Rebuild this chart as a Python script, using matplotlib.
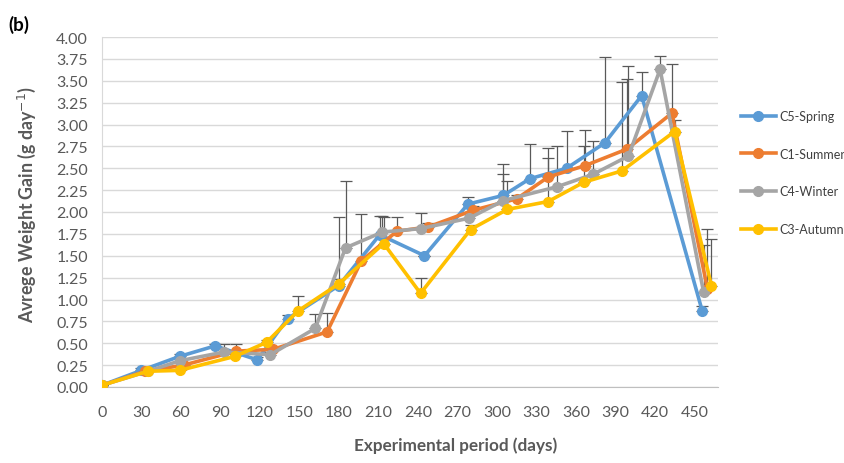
import matplotlib
matplotlib.use("Agg")
import matplotlib.pyplot as plt
import numpy as np

plt.rcParams['font.family'] = ['Lato', 'DejaVu Sans']

# ---- data ----
series_names = ["C5-Spring", "C1-Summer", "C4-Winter", "C3-Autumn"]

x_spring = [0, 30, 59, 86, 118, 141, 180, 211, 245, 278, 305, 325, 353, 382, 410, 456]
y_spring = [0.02, 0.19, 0.35, 0.47, 0.31, 0.78, 1.16, 1.74, 1.50, 2.09, 2.19, 2.38, 2.50, 2.79, 3.33, 0.87]
e_spring = [0, 0.03, 0.03, 0.02, 0.03, 0.04, 0.78, 0.21, 0, 0.08, 0.36, 0.40, 0.43, 0.98, 0.27, 0.06]

x_summer = [0, 33, 62, 102, 130, 171, 197, 224, 248, 282, 315, 339, 367, 399, 433, 460]
y_summer = [0.02, 0.18, 0.25, 0.41, 0.43, 0.63, 1.44, 1.78, 1.83, 2.02, 2.15, 2.40, 2.53, 2.72, 3.13, 1.12]
e_summer = [0, 0.03, 0.03, 0.08, 0.03, 0.22, 0.54, 0.16, 0.05, 0.05, 0.05, 0.33, 0.41, 0.80, 0.56, 0.69]

x_winter = [0, 35, 59, 93, 128, 162, 185, 213, 242, 279, 305, 346, 373, 400, 424, 457]
y_winter = [0.02, 0.18, 0.30, 0.40, 0.37, 0.67, 1.59, 1.77, 1.81, 1.93, 2.13, 2.29, 2.43, 2.64, 3.63, 1.09]
e_winter = [0, 0.03, 0.03, 0.09, 0.03, 0.17, 0.77, 0.18, 0.18, 0.05, 0.30, 0.47, 0.38, 1.03, 0.15, 0.53]

x_autumn = [0, 35, 59, 101, 125, 149, 180, 214, 242, 280, 308, 339, 366, 395, 435, 463]
y_autumn = [0.02, 0.18, 0.19, 0.35, 0.51, 0.87, 1.18, 1.64, 1.07, 1.80, 2.03, 2.12, 2.34, 2.47, 2.92, 1.16]
e_autumn = [0, 0.02, 0.02, 0.03, 0.03, 0.17, 0.05, 0.30, 0.18, 0.05, 0.32, 0.50, 0.41, 1.02, 0.13, 0.53]

x_ticks = list(range(0, 451, 30))
y_ticks = [i * 0.25 for i in range(17)]

colors = ["#5B9BD5", "#ED7D31", "#A5A5A5", "#FFC000"]

xs = [x_spring, x_summer, x_winter, x_autumn]
ys = [y_spring, y_summer, y_winter, y_autumn]
es = [e_spring, e_summer, e_winter, e_autumn]

# ---- figure ----
fig = plt.figure(figsize=(8.45, 4.64), dpi=100)
ax = fig.add_axes([102 / 845, 1 - 388 / 464, (718 - 102) / 845, (388 - 38) / 464])

handles = []
for x, y, e, c, name in zip(xs, ys, es, colors, series_names):
    ax.errorbar(x, y, yerr=[np.zeros(len(e)), e], fmt='none', ecolor='#595959',
                elinewidth=0.9, capsize=4, capthick=0.9, zorder=2)
    h, = ax.plot(x, y, color=c, lw=2.6, marker='o', markersize=7, label=name,
                 zorder=3, solid_joinstyle='round')
    handles.append(h)

ax.set_xlim(0, 468)
ax.set_ylim(0, 4.0)
ax.set_xticks(x_ticks)
ax.set_yticks(y_ticks)
ax.set_yticklabels([f"{v:.2f}" for v in y_ticks])
ax.tick_params(axis='both', length=0, labelsize=11.5, colors='#595959')
ax.tick_params(axis='x', pad=13)
ax.tick_params(axis='y', pad=10)
ax.yaxis.grid(True, color='#D9D9D9', lw=1)
ax.set_axisbelow(True)
for s in ['top', 'right']:
    ax.spines[s].set_visible(False)
ax.spines['left'].set_color('#D9D9D9')
ax.spines['bottom'].set_color('#BFBFBF')

ax.set_xlabel("Experimental period (days)", fontsize=12.3, fontweight='bold',
              color='#595959')
ax.xaxis.set_label_coords((456 - 102) / 616, (388 - 437) / 350)
ax.set_ylabel("Avrege Weight Gain (g day$^{-1}$)", fontsize=12.8, fontweight='bold',
              color='#595959')
ax.yaxis.set_label_coords((38 - 102) / 616, (388 - 205) / 350)

fig.text(8 / 845, 1 - 25 / 464, "(b)", fontsize=13.5, fontweight='bold', color='black',
         va='center', ha='left')

fig.legend(handles=handles, loc='upper left', bbox_to_anchor=(736 / 845, 1 - 106 / 464),
           frameon=False, fontsize=9, labelspacing=2.05, handlelength=2.8,
           handletextpad=0.3, labelcolor='#404040', borderaxespad=0)

fig.savefig("out.png", dpi=100)
